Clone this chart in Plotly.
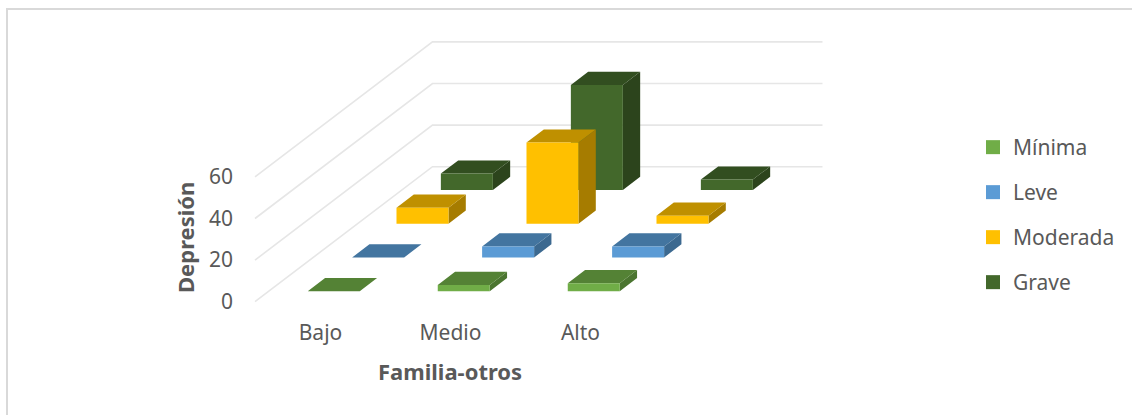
import plotly.graph_objects as go

categories = ["Bajo", "Medio", "Alto"]
series_names = ["Mínima", "Leve", "Moderada", "Grave"]
minima = [0, 3.0, 3.9]
leve = [0, 5.3, 5.3]
moderada = [7.7, 39, 3.9]
grave = [7.9, 50.5, 5.0]
series_values = [minima, leve, moderada, grave]
y_ticks = [0, 20, 40, 60]
front_colors = ["#70AD47", "#5B9BD5", "#FFC000", "#43682B"]
top_colors = ["#548235", "#4375A0", "#BF9000", "#324E20"]
side_colors = ["#4B7530", "#3C6990", "#A67C00", "#2C441C"]

# oblique projection
X0, Y0, KV = 255.0, 301.7, 2.08
CAT_W = 130.0
DX, DY = 44.37, 33.75
GAP, BW, D0, DB = 0.3, 0.4, 0.31, 0.39
W, H = 1132, 415


def proj(c, s, v):
    """category coord, series-depth coord, value -> plot x, y (y in value units)"""
    return X0 + CAT_W * c + DX * s, v + DY * s / KV


def poly(pts):
    xs, ys = zip(*[proj(*p) for p in pts])
    return list(xs) + [xs[0], None], list(ys) + [ys[0], None]


fig = go.Figure()

# gridlines
gx, gy = [], []
for t in y_ticks:
    a = proj(0, 0, t)
    b = proj(0, 4, t)
    c = proj(3, 4, t)
    gx += [a[0], b[0], c[0], None]
    gy += [a[1], b[1], c[1], None]
fig.add_trace(go.Scatter(x=gx, y=gy, mode="lines", line=dict(color="#E6E6E6", width=1.6),
                         hoverinfo="skip", showlegend=False))

# legend entries
for j, name in enumerate(series_names):
    fig.add_trace(go.Scatter(x=[None], y=[None], mode="markers", name=name, legendgroup=name,
                             marker=dict(symbol="square", size=14, color=front_colors[j])))

# bars, back row first
for j in range(3, -1, -1):
    fronts, tops, sides = ([], []), ([], []), ([], [])
    for i, v in enumerate(series_values[j]):
        c0, c1 = i + GAP, i + GAP + BW
        s0, s1 = j + D0, j + D0 + DB
        for store, pts in (
            (fronts, [(c0, s0, 0), (c1, s0, 0), (c1, s0, v), (c0, s0, v)]),
            (sides, [(c1, s0, 0), (c1, s1, 0), (c1, s1, v), (c1, s0, v)]),
            (tops, [(c0, s0, v), (c1, s0, v), (c1, s1, v), (c0, s1, v)]),
        ):
            px, py = poly(pts)
            store[0].extend(px)
            store[1].extend(py)
    for store, col in ((sides, side_colors[j]), (tops, top_colors[j]), (fronts, front_colors[j])):
        fig.add_trace(go.Scatter(x=store[0], y=store[1], mode="lines", fill="toself", fillcolor=col,
                                 line=dict(width=0, color=col), name=series_names[j],
                                 legendgroup=series_names[j], showlegend=False, hoverinfo="name"))

font = "Noto Sans, Open Sans, sans-serif"
fig.update_layout(
    width=W, height=H, margin=dict(l=0, r=0, t=0, b=0), autosize=False,
    paper_bgcolor="white", plot_bgcolor="white",
    font=dict(family=font, size=21, color="#595959"),
    xaxis=dict(range=[0, W], domain=[0, 1], anchor="free", position=1 - 318 / H, showgrid=False,
               zeroline=False, showline=False, ticks="",
               tickvals=[X0 + CAT_W * i + 65.5 for i in range(3)], ticktext=categories),
    yaxis=dict(range=[(Y0 - H) / KV, Y0 / KV], domain=[0, 1], anchor="free", position=233 / W,
               showgrid=False, zeroline=False, showline=False, ticks="",
               tickvals=y_ticks, ticktext=[str(t) for t in y_ticks]),
    showlegend=True,
    annotations=[
        dict(text="<b>Familia-otros</b>", x=450 / W, y=1 - 370.7 / H, xref="paper", yref="paper",
             xanchor="center", yanchor="middle", showarrow=False, font=dict(size=22, color="#595959")),
        dict(text="<b>Depresión</b>", x=185 / W, y=1 - 238 / H, xref="paper", yref="paper",
             xanchor="center", yanchor="middle", textangle=-90, showarrow=False,
             font=dict(size=22, color="#595959")),
    ],
    shapes=[dict(type="path", xref="paper", yref="paper", line=dict(color="#D9D9D9", width=2),
                 path=f"M {7/W} 0 L {7/W} {1-9/H} L 1 {1-9/H}")],
    legend=dict(x=973 / W, y=1 - 127 / H, xanchor="left", yanchor="top", font=dict(size=21),
                tracegroupgap=14.7, traceorder="grouped", itemclick=False, itemdoubleclick=False),
)
fig.write_html("out.html", config={"displayModeBar": False},
               post_script="document.body.style.margin='0';document.body.style.overflow='hidden';")
